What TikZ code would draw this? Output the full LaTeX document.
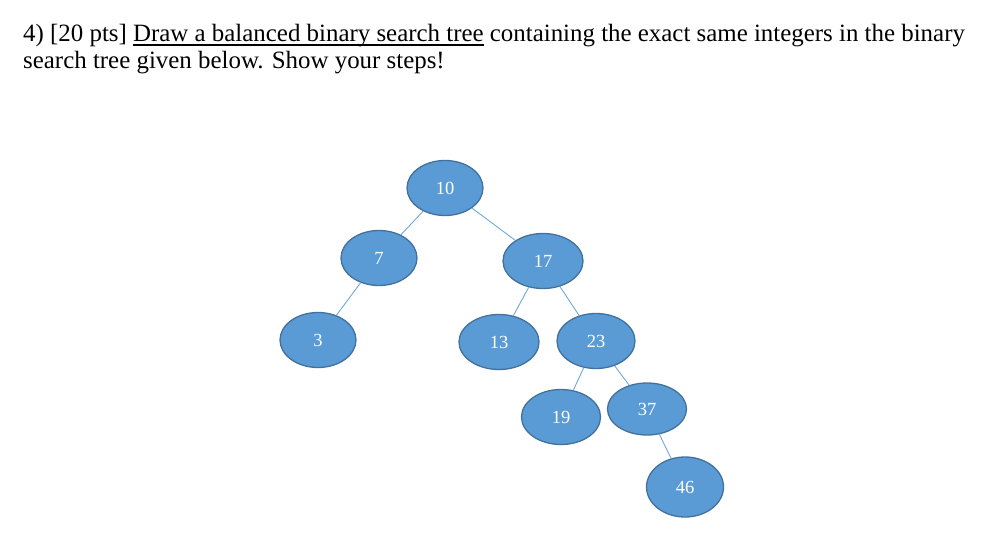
\documentclass[tikz,border=0pt]{standalone}
\usepackage{fontspec}
\setmainfont{Liberation Serif}
\usetikzlibrary{shapes.geometric}
\definecolor{nodefill}{HTML}{5B9BD5}
\definecolor{nodeline}{HTML}{41719C}
\definecolor{edgecol}{HTML}{6FA8DC}
\newcommand{\myunderline}[1]{\setbox0\hbox{#1}\rlap{\rule[-3.8pt]{\wd0}{1.5pt}}\box0\relax}
\begin{document}
\begin{tikzpicture}[x=1pt,y=-1pt,
  bst/.style={ellipse,draw=nodeline,line width=1.3pt,fill=nodefill,text=white,
    minimum width=76pt,minimum height=55pt,inner sep=0pt,
    font=\fontsize{18.5}{22}\selectfont},
  link/.style={draw=edgecol,line width=0.9pt},
  head/.style={anchor=base west,inner sep=0pt,font=\fontsize{24.9}{28}\selectfont}]
\useasboundingbox (0,0) rectangle (987,545);
\node[head] (l1) at (23,42) {4) [20 pts] \myunderline{Draw a balanced binary search tree} containing the exact same integers in the binary};
\node[head] (l2) at (23,69) {search tree given below. Show your steps!};
\node[bst] (n10) at (445,188) {10};
\node[bst] (n7) at (379,258) {7};
\node[bst,minimum width=80pt] (n17) at (543,261) {17};
\node[bst] (n3) at (318,340) {3};
\node[bst,minimum width=80pt] (n13) at (499,342) {13};
\node[bst,minimum width=78pt] (n23) at (596,341) {23};
\node[bst,minimum width=79pt] (n19) at (561,417) {19};
\node[bst,minimum width=79pt,minimum height=52pt] (n37) at (647,409) {37};
\node[bst,minimum width=77pt,minimum height=60pt] (n46) at (685,487) {46};
\draw[link] (n10) -- (n7);
\draw[link] (n10) -- (n17);
\draw[link] (n7) -- (n3);
\draw[link] (n17) -- (n13);
\draw[link] (n17) -- (n23);
\draw[link] (n23) -- (n19);
\draw[link] (n23) -- (n37);
\draw[link] (n37) -- (n46);
\end{tikzpicture}
\end{document}
